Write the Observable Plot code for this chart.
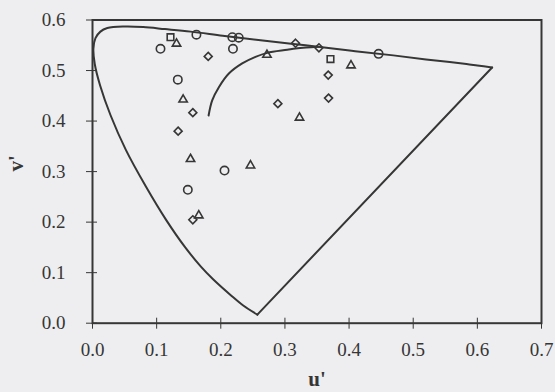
<!DOCTYPE html>
<html><head><meta charset="utf-8">
<script src="https://cdn.jsdelivr.net/npm/d3@7"></script>
<script src="https://cdn.jsdelivr.net/npm/@observablehq/plot@0.6"></script>
<style>body{margin:0;background:#eeeef0;} svg{display:block}</style>
</head><body><div id="chart"></div>
<script>
const xTicks = [0, 0.1, 0.2, 0.3, 0.4, 0.5, 0.6, 0.7];
const yTicks = [0, 0.1, 0.2, 0.3, 0.4, 0.5, 0.6];

// spectrum locus (u', v')
const locusU = [0.257, 0.235, 0.216, 0.188, 0.169, 0.144, 0.115, 0.083, 0.052, 0.028, 0.012, 0.0035, 0.0014, 0.0046, 0.0123, 0.0231, 0.050, 0.079, 0.113, 0.153, 0.203, 0.262, 0.332, 0.404, 0.469, 0.520, 0.557, 0.583, 0.600, 0.623];
const locusV = [0.017, 0.035, 0.055, 0.087, 0.112, 0.151, 0.204, 0.271, 0.343, 0.412, 0.470, 0.513, 0.543, 0.564, 0.577, 0.584, 0.587, 0.586, 0.582, 0.577, 0.569, 0.560, 0.550, 0.539, 0.530, 0.522, 0.517, 0.513, 0.510, 0.506];

// inner (blackbody) curve
const planckU = [0.181, 0.1866, 0.197, 0.2126, 0.2334, 0.2541, 0.2724, 0.3036, 0.3165, 0.333, 0.352];
const planckV = [0.411, 0.441, 0.467, 0.494, 0.514, 0.527, 0.535, 0.541, 0.5435, 0.5455, 0.547];

const circleU = [0.106, 0.162, 0.218, 0.228, 0.219, 0.446, 0.133, 0.2058, 0.1486];
const circleV = [0.543, 0.571, 0.566, 0.565, 0.543, 0.533, 0.482, 0.302, 0.264];

const diamondU = [0.1804, 0.3165, 0.353, 0.3675, 0.368, 0.289, 0.1564, 0.1335, 0.1564];
const diamondV = [0.528, 0.554, 0.545, 0.491, 0.4455, 0.4345, 0.4166, 0.380, 0.2047];

const triangleU = [0.131, 0.272, 0.403, 0.3227, 0.1413, 0.1528, 0.2463, 0.1657];
const triangleV = [0.553, 0.531, 0.510, 0.4067, 0.4424, 0.3248, 0.312, 0.2133];

const squareU = [0.1216, 0.371];
const squareV = [0.566, 0.5226];

const zip = (us, vs) => us.map((u, i) => ({u, v: vs[i]}));
const locus = zip(locusU, locusV);
const purple = [locus[locus.length - 1], locus[0]];
const planck = zip(planckU, planckV);

const ink = "#363636";
const font = "Liberation Serif";
const W = 555, H = 392;
const mL = 92, mR = 14, mT = 19.5, mB = 69.3;
const fw = W - mL - mR, fh = H - mT - mB;

const dotOpts = (r) => ({x: "u", y: "v", r, fill: "none", stroke: ink, strokeWidth: 1.6});

const chart = Plot.plot({
  width: W, height: H,
  marginLeft: mL, marginRight: mR, marginTop: mT, marginBottom: mB,
  style: {background: "#eeeef0", color: ink, fontFamily: font},
  x: {domain: [0, 0.7]},
  y: {domain: [0, 0.6]},
  marks: [
    Plot.axisX(xTicks, {anchor: "bottom", tickSize: 6, tickPadding: 13, tickFormat: d3.format(".1f"), fontSize: 19, fontFamily: font, label: null}),
    Plot.axisY(yTicks, {anchor: "left", tickSize: 6, tickPadding: 21, tickFormat: d3.format(".1f"), fontSize: 19, fontFamily: font, label: null}),
    Plot.tickX(xTicks, {x: d => d, insetTop: fh - 5, stroke: ink, strokeWidth: 1}),
    Plot.tickY(yTicks, {y: d => d, insetRight: fw - 5, stroke: ink, strokeWidth: 1}),
    Plot.line(locus, {x: "u", y: "v", stroke: ink, strokeWidth: 2, curve: "catmull-rom"}),
    Plot.line(purple, {x: "u", y: "v", stroke: ink, strokeWidth: 2}),
    Plot.line(planck, {x: "u", y: "v", stroke: ink, strokeWidth: 2, curve: "catmull-rom"}),
    Plot.dot(zip(circleU, circleV), {...dotOpts(4.2), symbol: "circle"}),
    Plot.dot(zip(diamondU, diamondV), {...dotOpts(3.6), symbol: "diamond2"}),
    Plot.dot(zip(triangleU, triangleV), {...dotOpts(4.0), symbol: "triangle2"}),
    Plot.dot(zip(squareU, squareV), {...dotOpts(4.2), symbol: "square2"}),
    Plot.frame({stroke: ink, strokeWidth: 2}),
    Plot.text(["u'"], {text: d => d, frameAnchor: "bottom", lineAnchor: "bottom", dy: 63, fontSize: 21, fontFamily: font, fontWeight: "bold", fill: ink}),
    Plot.text(["v'"], {text: d => d, frameAnchor: "left", dx: -76, rotate: -90, fontSize: 21, fontFamily: font, fontWeight: "bold", fill: ink})
  ]
});
document.getElementById("chart").appendChild(chart);
</script>
</body></html>
